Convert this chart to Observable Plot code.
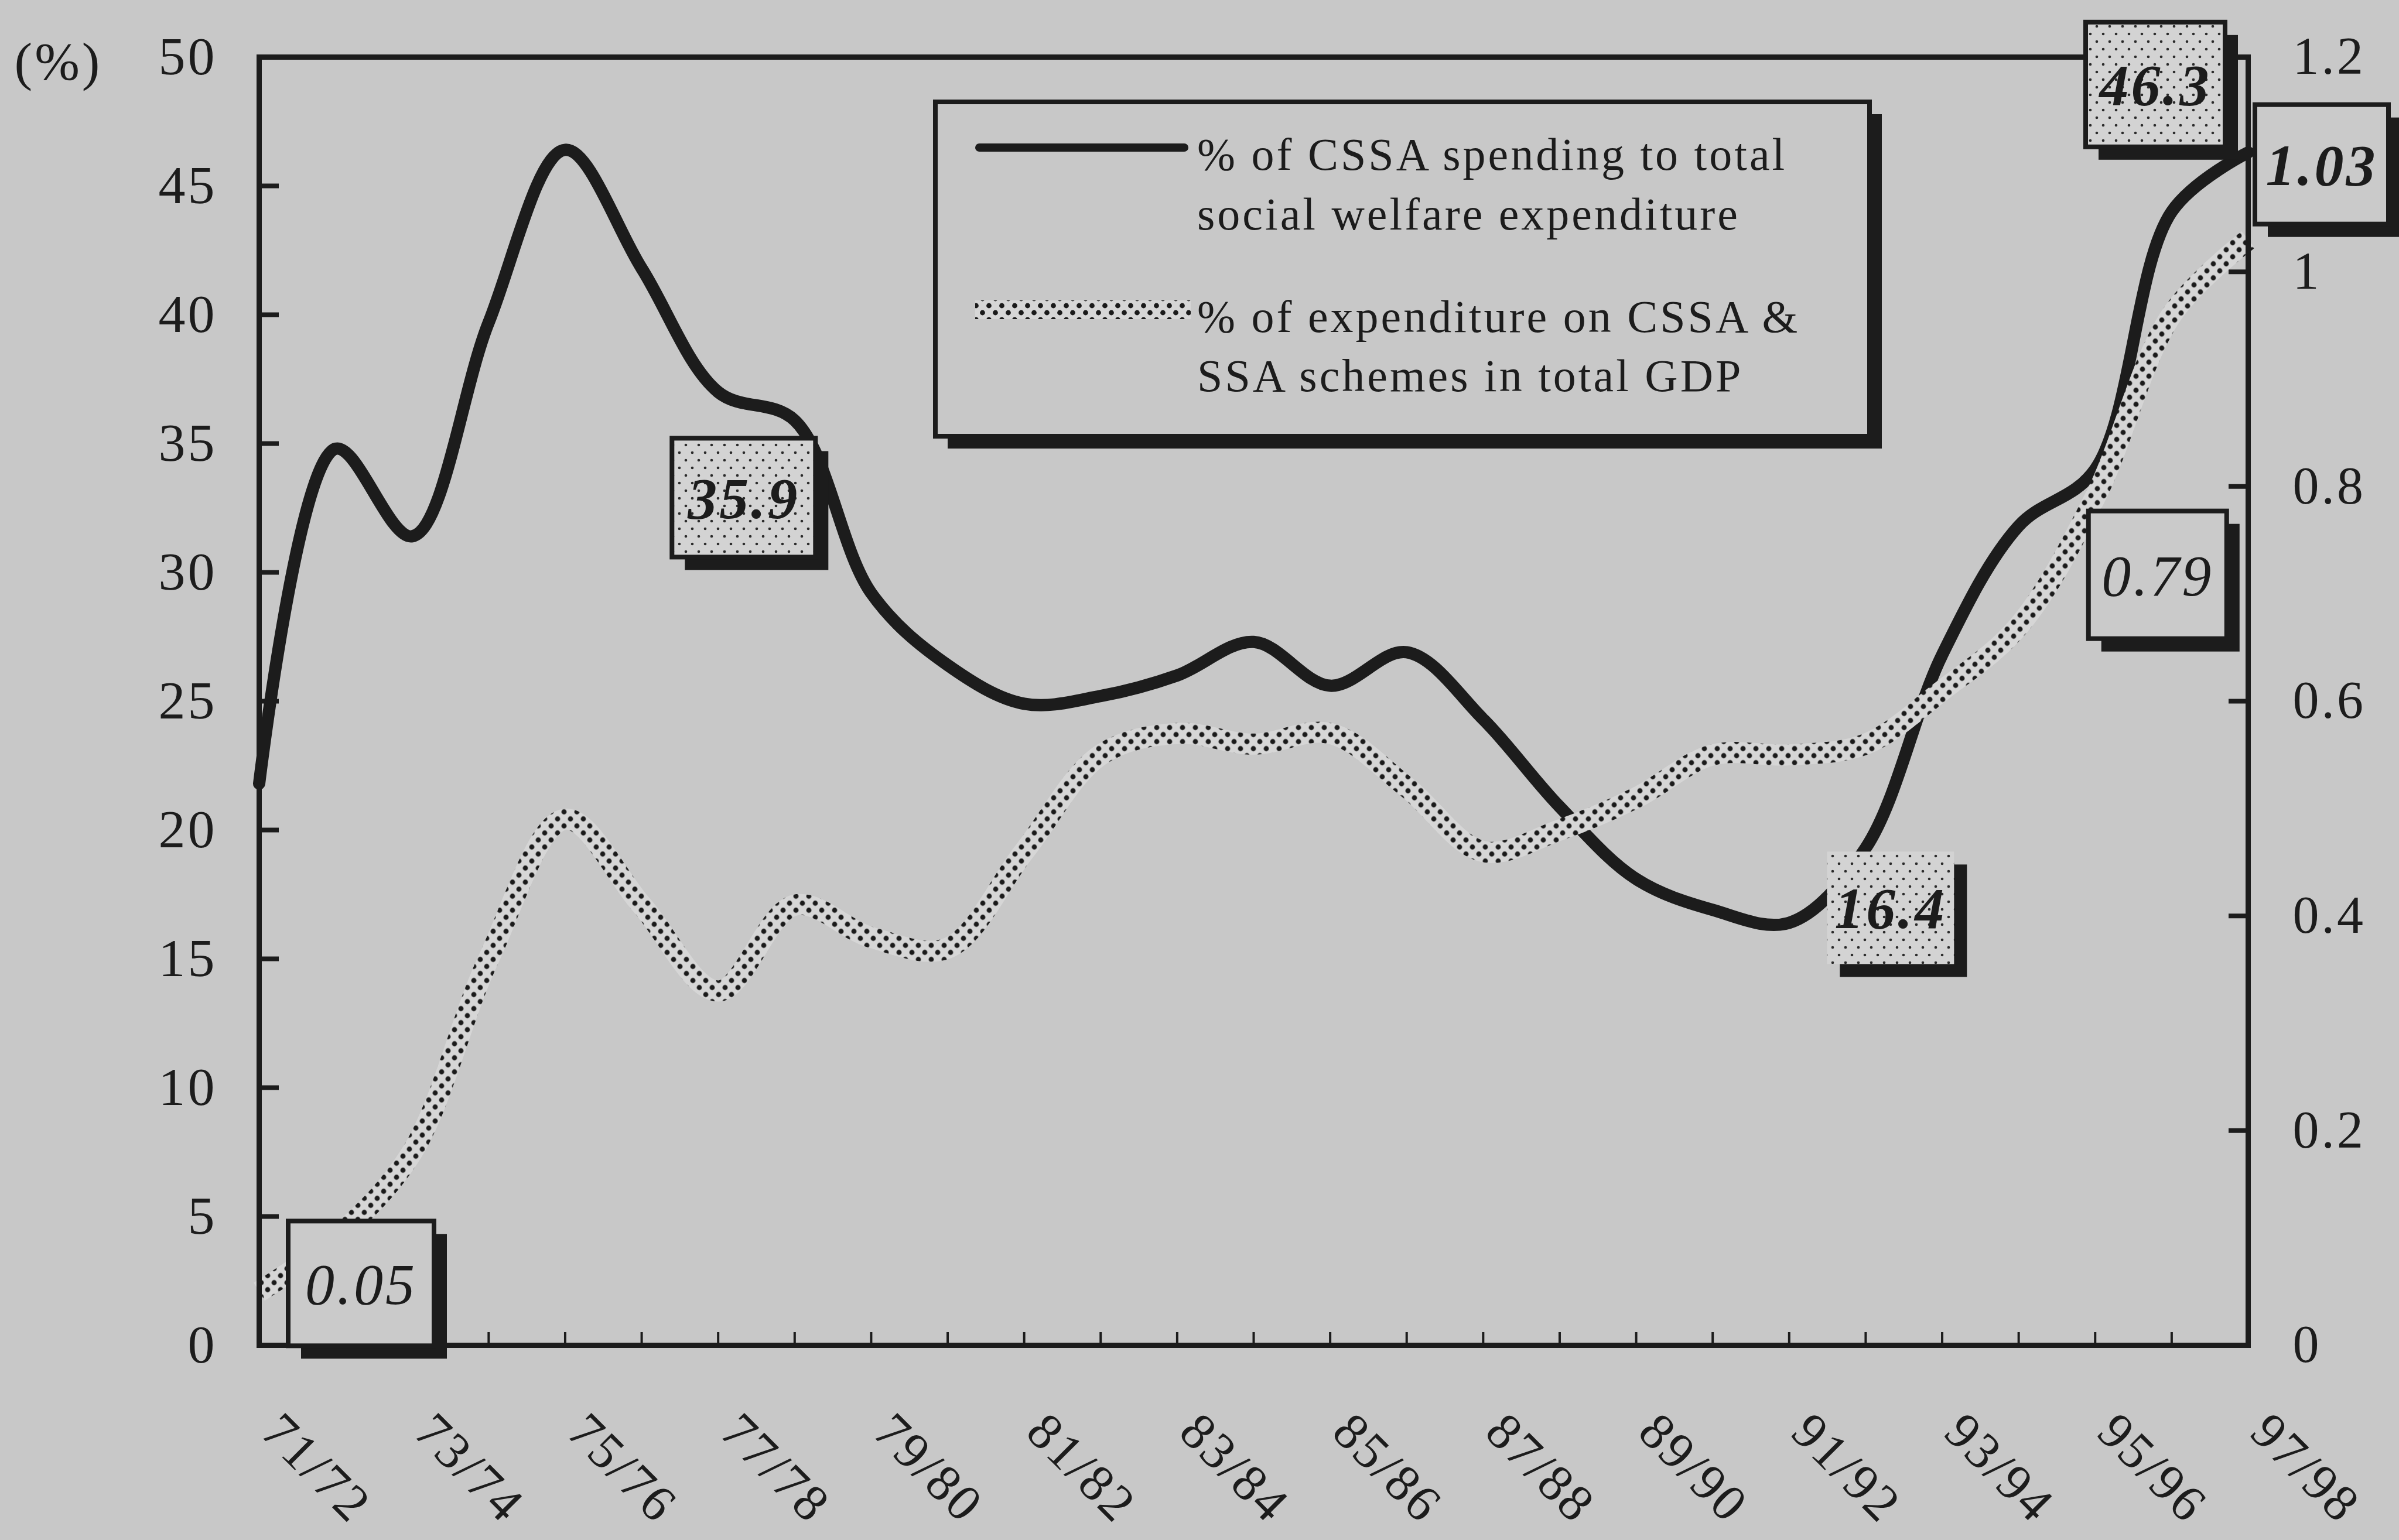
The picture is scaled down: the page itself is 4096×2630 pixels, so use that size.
<!DOCTYPE html>
<html>
<head>
<meta charset="utf-8">
<script src="https://cdn.jsdelivr.net/npm/d3@7"></script>
<script src="https://cdn.jsdelivr.net/npm/@observablehq/plot@0.6"></script>
<style>
  html, body { margin: 0; padding: 0; background: #c8c8c8; }
  #chart { position: relative; width: 4096px; height: 2630px; overflow: hidden; }
  #chart svg { position: absolute; left: 0; top: 0; }
  #chart svg text { letter-spacing: 4px; }
</style>
</head>
<body>
<div id="chart"></div>
<script>
// Financial years, 1971/72 to 1997/98
const years = ["71/72","72/73","73/74","74/75","75/76","76/77","77/78","78/79","79/80","80/81",
  "81/82","82/83","83/84","84/85","85/86","86/87","87/88","88/89","89/90","90/91",
  "91/92","92/93","93/94","94/95","95/96","96/97","97/98"];

// % of CSSA spending to total social welfare expenditure (left axis)
const cssaShare = [21.8, 34.8, 31.4, 39.7, 46.4, 41.8, 37.0, 35.9, 29.2, 26.4,
  24.9, 25.2, 26.0, 27.3, 25.6, 26.9, 24.3, 20.9, 18.1, 16.9,
  16.4, 19.3, 26.8, 31.8, 34.0, 44.0, 46.3];

// % of expenditure on CSSA & SSA schemes in total GDP (right axis)
const gdpShare = [0.05, 0.10, 0.18, 0.36, 0.49, 0.41, 0.33, 0.41, 0.38, 0.37,
  0.46, 0.55, 0.57, 0.56, 0.57, 0.52, 0.46, 0.48, 0.51, 0.55,
  0.55, 0.56, 0.61, 0.67, 0.79, 0.96, 1.03];

// Axis ticks and labels
const leftTicks = [0, 5, 10, 15, 20, 25, 30, 35, 40, 45, 50];
const rightTicks = [0, 0.2, 0.4, 0.6, 0.8, 1, 1.2];
const xTickLabels = ["71/72","73/74","75/76","77/78","79/80","81/82","83/84",
  "85/86","87/88","89/90","91/92","93/94","95/96","97/98"];

// Legend entries
const seriesNames = [
  ["% of CSSA spending to total", "social welfare expenditure"],
  ["% of expenditure on CSSA &", "SSA schemes in total GDP"]
];

// Right-axis values expressed in left-axis units
const axisRatio = leftTicks[leftTicks.length - 1] / rightTicks[rightTicks.length - 1];
const toLeft = w => w * axisRatio;
const fmtRight = v => String(+(v / axisRatio).toFixed(2));

const INK = "#1c1c1c";
const FONT = "'Liberation Serif', 'Times New Roman', serif";

const labelled = xTickLabels.map(label => ({label, i: years.indexOf(label)}));

const chart = Plot.plot({
  width: 4096,
  height: 2630,
  marginLeft: 442,
  marginRight: 258,
  marginTop: 97,
  marginBottom: 333,
  style: {background: "transparent", fontFamily: FONT, fontSize: "92px", color: INK},
  x: {domain: [0, years.length - 1], axis: null},
  y: {domain: [0, leftTicks[leftTicks.length - 1]], axis: null},
  marks: [
    // inward ticks on the year axis
    Plot.axisX(years.map((_, i) => i), {tickSize: -22, strokeWidth: 4, tickFormat: () => "", label: null}),
    // left axis
    Plot.axisY(leftTicks, {anchor: "left", tickSize: -34, tickPadding: 106, strokeWidth: 8,
      fontSize: 92, label: null}),
    // right axis, scaled onto the left axis
    Plot.axisY(rightTicks.map(toLeft), {anchor: "right", tickSize: -34, tickPadding: 110, strokeWidth: 8,
      fontSize: 90, tickFormat: fmtRight, label: null}),
    // rotated year labels
    Plot.text(labelled, {x: "i", text: "label", frameAnchor: "bottom", rotate: 45,
      textAnchor: "start", lineAnchor: "top", dx: 44, dy: 108, fontSize: 88, fill: INK}),
    Plot.text(["(%)"], {frameAnchor: "top-left", dx: -343, dy: 9, textAnchor: "middle",
      lineAnchor: "middle", fontSize: 92, fill: INK}),
    Plot.line(cssaShare, {x: (d, i) => i, y: d => d, stroke: INK, strokeWidth: 21,
      curve: "catmull-rom", strokeLinecap: "round", strokeLinejoin: "round"}),
    Plot.line(gdpShare, {x: (d, i) => i, y: d => toLeft(d), stroke: "url(#halftone)", strokeWidth: 36,
      curve: "catmull-rom", strokeLinecap: "butt"}),
    Plot.frame({stroke: INK, strokeWidth: 9})
  ]
});

document.getElementById("chart").appendChild(chart);

const svg = d3.select(chart);

// halftone patterns for the GDP band and the shaded call-outs
const defs = svg.insert("defs", ":first-child");
const ht = defs.append("pattern").attr("id", "halftone")
  .attr("patternUnits", "userSpaceOnUse").attr("width", 22).attr("height", 24);
ht.append("rect").attr("width", 22).attr("height", 24).attr("fill", "#d6d6d6");
ht.append("circle").attr("cx", 5.5).attr("cy", 6).attr("r", 4.4).attr("fill", "#1a1a1a");
ht.append("circle").attr("cx", 16.5).attr("cy", 18).attr("r", 4.4).attr("fill", "#1a1a1a");

const st = defs.append("pattern").attr("id", "stipple")
  .attr("patternUnits", "userSpaceOnUse").attr("width", 22).attr("height", 26);
st.append("rect").attr("width", 22).attr("height", 26).attr("fill", "#d3d3d3");
st.append("circle").attr("cx", 5).attr("cy", 6).attr("r", 2.3).attr("fill", "#2a2a2a");
st.append("circle").attr("cx", 16).attr("cy", 19).attr("r", 2.3).attr("fill", "#2a2a2a");

const xs = chart.scale("x");
const ys = chart.scale("y");

// value call-outs placed next to their data points
const callouts = [
  {values: cssaShare, toY: d => d, index: 7, dx: -209, dy: 31, w: 245, h: 203, fill: "url(#stipple)", border: true, weight: "bold"},
  {values: cssaShare, toY: d => d, index: 20, dx: 65, dy: -121, w: 217, h: 192, fill: "url(#stipple)", border: false, weight: "bold"},
  {values: cssaShare, toY: d => d, index: 26, dx: -277, dy: -222, w: 238, h: 213, fill: "url(#stipple)", border: true, weight: "bold"},
  {values: gdpShare, toY: toLeft, index: 0, dx: 50, dy: -120, w: 249, h: 213, fill: "#cacaca", border: true, weight: "normal"},
  {values: gdpShare, toY: toLeft, index: 24, dx: -11, dy: 24, w: 236, h: 218, fill: "#cacaca", border: true, weight: "normal"},
  {values: gdpShare, toY: toLeft, index: 26, dx: 12, dy: -230, w: 228, h: 204, fill: "#cacaca", border: true, weight: "bold"}
];

const SHADOW = 22;
const boxes = svg.append("g").attr("class", "callouts");
for (const c of callouts) {
  const v = c.values[c.index];
  const px = xs.apply(c.index);
  const py = ys.apply(c.toY(v));
  const x0 = px + c.dx, y0 = py + c.dy;
  const g = boxes.append("g");
  g.append("rect").attr("x", x0 + SHADOW).attr("y", y0 + SHADOW)
    .attr("width", c.w).attr("height", c.h).attr("fill", INK);
  g.append("rect").attr("x", x0).attr("y", y0).attr("width", c.w).attr("height", c.h)
    .attr("fill", c.fill)
    .attr("stroke", c.border ? INK : "none").attr("stroke-width", 8);
  g.append("text").attr("x", x0 + c.w / 2).attr("y", y0 + c.h / 2)
    .attr("dy", "0.35em").attr("text-anchor", "middle")
    .attr("font-family", FONT).attr("font-style", "italic").attr("font-weight", c.weight)
    .attr("font-size", 100).attr("fill", INK)
    .text(String(v));
}

// legend
const lg = svg.append("g").attr("class", "legend");
const L = {x: 1597, y: 174, w: 1595, h: 571};
lg.append("rect").attr("x", L.x + 21).attr("y", L.y + 21).attr("width", L.w).attr("height", L.h).attr("fill", INK);
lg.append("rect").attr("x", L.x).attr("y", L.y).attr("width", L.w).attr("height", L.h)
  .attr("fill", "#c8c8c8").attr("stroke", INK).attr("stroke-width", 8);
lg.append("line").attr("x1", 1672).attr("x2", 2022).attr("y1", 252).attr("y2", 252)
  .attr("stroke", INK).attr("stroke-width", 14).attr("stroke-linecap", "round");
lg.append("line").attr("x1", 1665).attr("x2", 2033).attr("y1", 529).attr("y2", 529)
  .attr("stroke", "url(#halftone)").attr("stroke-width", 32);
const baselines = [[290, 392], [567, 668]];
seriesNames.forEach((lines, k) => {
  lines.forEach((t, j) => {
    lg.append("text").attr("x", 2044).attr("y", baselines[k][j])
      .attr("text-anchor", "start")
      .attr("font-family", FONT).attr("font-size", 78).attr("letter-spacing", "7px")
      .attr("fill", INK).text(t);
  });
});
</script>
</body>
</html>
